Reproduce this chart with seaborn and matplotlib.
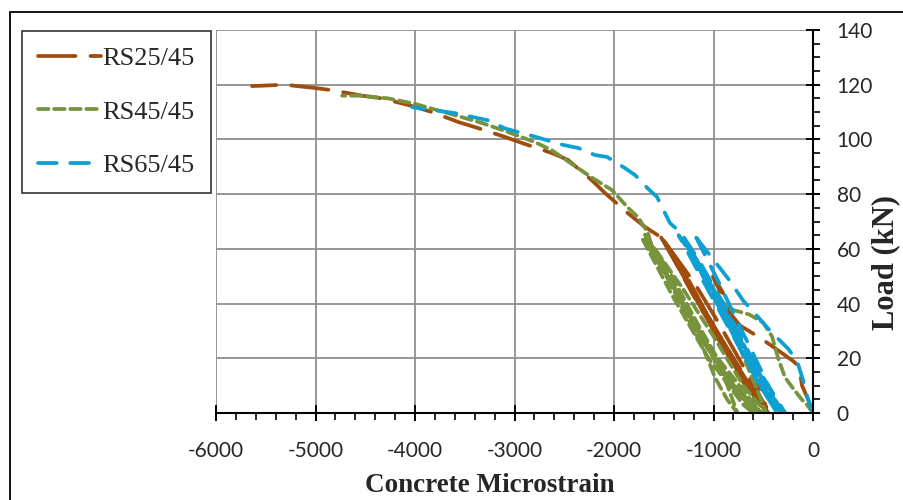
import matplotlib
matplotlib.use("Agg")
import matplotlib.pyplot as plt
import seaborn as sns
import pandas as pd
from matplotlib.patches import Rectangle

# ---------------- data ----------------
series_names = ["RS25/45", "RS45/45", "RS65/45"]

rs25_x = [0, -50, -110, -140, -200, -432, -600, -734, -834, -905, -1005,
          -780, -600, -470,
          -700, -950, -1200, -1420, -1540,
          -1250, -950, -700, -480,
          -750, -1050, -1300, -1480,
          -1200, -900, -650, -460,
          -720, -1000, -1280, -1500,
          -1230, -930, -680, -450,
          -800, -1100, -1350, -1518,
          -1688, -1859, -2090, -2221, -2462, -2623, -2925, -3095, -3397, -3568,
          -3829, -4070, -4332, -4533, -4834, -5005, -5307, -5638]
rs25_y = [0, 5, 10, 17, 19, 25, 29, 32, 36.5, 44, 50,
          32, 16, 2,
          17, 33, 48, 59, 65,
          47, 28, 12, 1,
          16, 35, 52, 62,
          43, 24, 9, 0,
          15, 32, 49, 63,
          45, 26, 10, 0,
          20, 38, 55, 64,
          68, 73, 80.4, 85, 92.5, 95, 98.7, 100.9, 104.5, 106.4,
          110, 112.6, 115, 116, 118, 118.8, 120, 119.5]

rs45_x = [0, -60, -110, -211, -281, -350, -412, -500, -640, -834, -950,
          -760, -590, -470,
          -700, -1000, -1300, -1550, -1680,
          -1400, -1100, -800, -560,
          -850, -1150, -1450, -1700,
          -1500, -1307, -1106, -985, -864, -760,
          -900, -1250, -1550, -1720,
          -1400, -1050, -700, -600,
          -950, -1300, -1560, -1690,
          -1420, -1120, -820, -520,
          -1000, -1350, -1600, -1658,
          -1759, -1859, -2020, -2221, -2422, -2623, -2794, -3065, -3327, -3668,
          -4000, -4271, -4550, -4733]
rs45_y = [0, 3, 4.8, 9.5, 13, 20, 28, 33, 36, 38, 42,
          26, 11, 0,
          10, 28, 45, 58, 64,
          46, 26, 9, 0,
          13, 32, 52, 66,
          52, 38, 24, 13, 5, 0,
          14, 36, 56, 64,
          42, 20, 3, 0,
          18, 40, 57, 63,
          47, 28, 11, 0,
          22, 44, 58, 65.8,
          71.6, 75, 81.5, 86, 91, 96, 99, 102.7, 106, 109.6,
          113, 115, 116, 116]

rs65_x = [0, -50, -100, -160, -250, -430, -550, -700, -850, -1000, -1150, -1200,
          -950, -700, -500, -330,
          -600, -900, -1150, -1350,
          -1100, -800, -550, -360,
          -650, -950, -1200, -1300,
          -1050, -750, -500, -300,
          -580, -870, -1120, -1280,
          -1020, -720, -480, -280,
          -600, -900, -1150, -1330, -1437,
          -1487, -1568, -1658, -1789, -1910, -2070, -2191, -2362, -2513,
          -2794, -3095, -3266, -3397, -3598, -4030]
rs65_y = [0, 5, 12, 19, 23.5, 30, 35, 41, 49, 56, 63, 66,
          48, 29, 14, 0,
          18, 38, 54, 65,
          48, 28, 11, 0,
          20, 42, 58, 64,
          46, 25, 8, 0,
          17, 37, 53, 62,
          45, 24, 8, 0,
          19, 40, 56, 66, 69.4,
          73, 79, 82, 87, 90, 93.6, 94.3, 96.9, 98,
          101, 104, 107, 108, 109.6, 111.8]

x_ticks = [-6000, -5000, -4000, -3000, -2000, -1000, 0]
y_ticks = [0, 20, 40, 60, 80, 100, 120, 140]

colors = ["#A04C0C", "#77933C", "#0EA0D2"]
dash_patterns = [(10, 4), (2.8, 1.5), (5, 3.6)]

frames = []
for name, xs, ys in zip(series_names, [rs25_x, rs45_x, rs65_x], [rs25_y, rs45_y, rs65_y]):
    frames.append(pd.DataFrame({"strain": xs, "load": ys, "series": name,
                                "order": range(len(xs))}))
df = pd.concat(frames, ignore_index=True)

# ---------------- figure ----------------
sns.set_style("white")
plt.rcParams["axes.unicode_minus"] = False
fig = plt.figure(figsize=(9.04, 5.0), dpi=100)
ax = fig.add_axes([216 / 904, 1 - 413 / 500, (813 - 216) / 904, (413 - 30) / 500])

handles = []
for name, col, dsh in zip(series_names, colors, dash_patterns):
    sub = df[df["series"] == name]
    sns.lineplot(data=sub, x="strain", y="load", sort=False, estimator=None,
                 color=col, lw=2.7, ax=ax)
    ln = ax.lines[-1]
    ln.set_dashes(dsh)
    ln.set_dash_capstyle("round")
    ln.set_label(name)
    handles.append(ln)

ax.set_xlim(-6000, 0)
ax.set_ylim(0, 140)
ax.set_xticks(x_ticks)
ax.set_yticks(y_ticks)
ax.set_xticks(range(-6000, 1, 200), minor=True)
ax.set_yticks(range(0, 141, 5), minor=True)

ax.yaxis.tick_right()
ax.grid(True, which="major", color="#8f8f8f", lw=1.3)
ax.set_axisbelow(True)

for s in ["top", "left"]:
    ax.spines[s].set_visible(False)
for s in ["right", "bottom"]:
    ax.spines[s].set_visible(True)
    ax.spines[s].set_color("black")
    ax.spines[s].set_linewidth(1.5)
    ax.spines[s].set_zorder(5)

ax.tick_params(axis="x", which="major", direction="inout", length=11, width=1.4,
               color="black", pad=15, labelsize=15, bottom=True)
ax.tick_params(axis="x", which="minor", direction="out", length=5, width=1.2,
               color="black", bottom=True)
ax.tick_params(axis="y", which="major", direction="inout", length=10, width=1.4,
               color="black", pad=12, labelsize=15, right=True, left=False)
ax.tick_params(axis="y", which="minor", direction="out", length=5, width=1.2,
               color="black", right=True, left=False)
for lab in ax.get_xticklabels() + ax.get_yticklabels():
    lab.set_fontfamily("Lato")

ax.set_xlabel("")
ax.set_ylabel("")
fig.text(490 / 904, 1 - 485 / 500, "Concrete Microstrain", ha="center", va="center",
         fontfamily="Liberation Serif", fontweight="bold", fontsize=19.5)
fig.text(886 / 904, 1 - 262 / 500, "Load (kN)", ha="center", va="center",
         rotation=90, fontfamily="Liberation Serif", fontweight="bold", fontsize=22)

leg = ax.legend(handles=handles, loc="upper left",
                bbox_to_anchor=(22 / 904, 1 - 31 / 500),
                bbox_transform=fig.transFigure,
                prop={"family": "Liberation Serif", "size": 19},
                frameon=True, fancybox=False, edgecolor="black",
                handlelength=2.4, handletextpad=0.05, labelspacing=1.13,
                borderpad=0.6, borderaxespad=0)
leg.get_frame().set_linewidth(1.2)

# outer chart border
fig.patches.append(Rectangle((10 / 904, -0.1), 1.2, 1.1 - 12 / 500,
                             transform=fig.transFigure, fill=False,
                             edgecolor="black", lw=1.3))

fig.savefig("out.png", dpi=100)
